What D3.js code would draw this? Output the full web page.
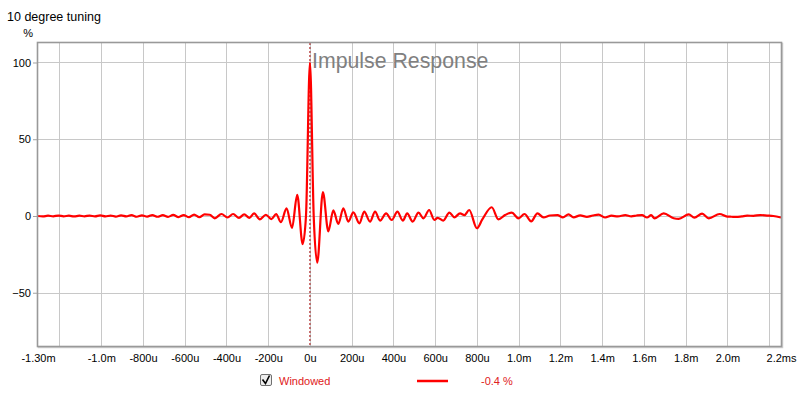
<!DOCTYPE html>
<html>
<head>
<meta charset="utf-8">
<script src="https://cdn.jsdelivr.net/npm/d3@7"></script>
<style>
  body { margin: 0; background: #fff; }
  text { font-family: "Liberation Sans", Arial, sans-serif; }
</style>
</head>
<body>
<svg id="chart" width="800" height="395"></svg>
<script>
// time in microseconds, value in percent (extrema)
var times = [-1303, -1280, -1255, -1230, -1205, -1180, -1155, -1130, -1105, -1080, -1055, -1030, -1005,
  -980, -955, -930, -905, -880, -855, -830, -805, -780, -755, -730, -705, -680, -655, -630, -605,
  -580, -555, -530, -505, -480, -456, -424, -395, -368, -340, -315, -290, -268, -240, -211, -185,
  -162, -139, -112, -86, -61, -35, -19, 0, 18, 35, 62, 88, 112, 136, 160, 184, 208, 237, 260, 288,
  312, 336, 365, 392, 419, 445, 466, 492, 520, 544, 571, 596, 612, 639, 668, 692, 719, 740, 763,
  800, 826, 871, 903, 935, 967, 999, 1028, 1060, 1090, 1119, 1150, 1186, 1212, 1239, 1263, 1295,
  1327, 1355, 1383, 1415, 1445, 1475, 1511, 1540, 1565, 1591, 1615, 1635, 1651, 1695, 1743, 1767,
  1815, 1842, 1879, 1911, 1963, 1999, 2020, 2043, 2070, 2095, 2125, 2158, 2190, 2220, 2257];
var percent = [0, -0.3, 0.2, -0.2, 0.3, -0.2, 0.2, -0.3, 0.2, -0.2, 0.3, -0.3, 0.4,
  -0.3, 0.3, -0.4, 0.4, -0.3, 0.5, -0.5, 0.4, -0.4, 0.6, -0.5, 0.5, -0.6, 0.7, -0.7, 0.6,
  -0.8, 0.9, -0.8, 1.0, 0.8, -1.5, 1.3, -1.0, 1.3, -1.2, 1.0, -1.2, 1.7, -2.2, 0.8, -2.0,
  1.2, -4.0, 5.0, -7.8, 13.7, -18.3, 0, 100, 0, -30.4, 15.6, -10.0, 3.6, -5.2, 5.0, -3.7, 2.4, -4.8, 2.8, -3.7,
  2.8, -3.0, 1.7, -2.6, 2.8, -3.0, 1.7, -3.7, 2.2, -1.5, 3.9, -2.6, -1.2, -3.0, 2.2, -0.9, 1.7, 0.5, 3.9,
  -8.0, -2.2, 5.7, -2.2, 0.6, 2.2, -1.5, 1.3, -3.5, 1.7, -0.9, 0.3, 0.6, -0.9, 1.0, -0.9, 0.4,
  -0.6, 0.3, 0.9, -1.0, 0.2, -0.3, 0.6, -0.2, 0.3, 0.6, -1.0, 0.5, -1.5, 1.7, -1.5, -1.9,
  1.1, -1.1, 1.5, -1.5, 1.3, -0.4, -0.5, -0.6, -0.2, 0.2, 0.1, 0.6, 0.3, 0.0, -1.0];

var xTickValues = [-1303, -1000, -800, -600, -400, -200, 0, 200, 400, 600, 800, 1000, 1200, 1400, 1600, 1800, 2000, 2257];
var xTickLabels = ["-1.30m", "-1.0m", "-800u", "-600u", "-400u", "-200u", "0u", "200u", "400u", "600u", "800u",
  "1.0m", "1.2m", "1.4m", "1.6m", "1.8m", "2.0m", "2.2ms"];
var xGrid = [-1200, -1000, -800, -600, -400, -200, 0, 200, 400, 600, 800, 1000, 1200, 1400, 1600, 1800, 2000, 2200];
var yTickValues = [-50, 0, 50, 100];

var svg = d3.select("#chart");
var plotL = 38, plotR = 781, plotT = 43, plotB = 346;

var x = d3.scaleLinear().domain([-1303, 2257]).range([plotL, plotR]);
var y = d3.scaleLinear().domain([-84.7, 112.7]).range([plotB, plotT]);

svg.append("text").attr("x", 7).attr("y", 21).style("font-size", "12.5px").text("10 degree tuning");
svg.append("text").attr("x", 33).attr("y", 37).attr("text-anchor", "end").style("font-size", "11px").text("%");

// plot background + frame shadow
svg.append("rect").attr("x", plotL + 1).attr("y", plotT + 1).attr("width", plotR - plotL).attr("height", plotB - plotT)
    .attr("fill", "none").attr("stroke", "#d0d0d0").attr("stroke-width", 2.5);
svg.append("rect").attr("x", plotL).attr("y", plotT).attr("width", plotR - plotL).attr("height", plotB - plotT)
    .attr("fill", "#fff");

var grid = svg.append("g");
grid.selectAll("line.v").data(xGrid).enter().append("line")
    .attr("x1", function(d) { return Math.round(x(d)) + 0.5; })
    .attr("x2", function(d) { return Math.round(x(d)) + 0.5; })
    .attr("y1", plotT).attr("y2", plotB)
    .attr("stroke", "#c8c8c8").attr("stroke-width", 1);
grid.selectAll("line.h").data(yTickValues).enter().append("line")
    .attr("y1", function(d) { return Math.round(y(d)) + 0.5; })
    .attr("y2", function(d) { return Math.round(y(d)) + 0.5; })
    .attr("x1", plotL).attr("x2", plotR)
    .attr("stroke", "#c8c8c8").attr("stroke-width", 1);

// dashed zero marker
svg.append("line")
    .attr("x1", x(0)).attr("x2", x(0)).attr("y1", plotT).attr("y2", plotB)
    .attr("stroke", "#a00000").attr("stroke-width", 1).attr("stroke-dasharray", "2,2");

svg.append("text").attr("x", 312).attr("y", 68).attr("fill", "#808080").style("font-size", "21.3px").text("Impulse Response");

var pts = times.map(function(t, i) { return [t, percent[i]]; });
var line = d3.line()
    .x(function(d) { return x(d[0]); })
    .y(function(d) { return y(d[1]); })
    .curve(d3.curveMonotoneX);

svg.append("path").datum(pts)
    .attr("d", line)
    .attr("fill", "none")
    .attr("stroke", "#ff0000")
    .attr("stroke-width", 2.2)
    .attr("stroke-linejoin", "round");

// frame
svg.append("rect").attr("x", plotL - 0.5).attr("y", plotT - 0.5).attr("width", plotR - plotL + 1).attr("height", plotB - plotT + 1)
    .attr("fill", "none").attr("stroke", "#999999").attr("stroke-width", 1.6);

// axes
var xAxis = d3.axisBottom(x).tickValues(xTickValues)
    .tickFormat(function(d, i) { return xTickLabels[i]; }).tickSize(0).tickPadding(0);
var gx = svg.append("g").attr("transform", "translate(0," + 362 + ")").call(xAxis);
gx.select(".domain").remove();
gx.selectAll("text").attr("dy", 0).style("font-size", "11px").style("font-family", "Liberation Sans, Arial, sans-serif");

var yAxis = d3.axisLeft(y).tickValues(yTickValues).tickSize(4).tickPadding(2);
var gy = svg.append("g").attr("transform", "translate(" + (plotL - 1) + ",0)").call(yAxis);
gy.select(".domain").remove();
gy.selectAll("line").attr("stroke", "#a0a0a0");
gy.selectAll("text").style("font-size", "11px").style("font-family", "Liberation Sans, Arial, sans-serif");

// legend
var lg = svg.append("g");
lg.append("rect").attr("x", 260.5).attr("y", 374.5).attr("width", 11).attr("height", 11).attr("rx", 1.5)
    .attr("fill", "#eeeeee").attr("stroke", "#707070");
lg.append("path").attr("d", "M262.5,379.5 L265.5,383.5 L269.5,375.5")
    .attr("fill", "none").attr("stroke", "#000").attr("stroke-width", 1.6);
lg.append("text").attr("x", 279).attr("y", 385).attr("fill", "#e02020").style("font-size", "11px").text("Windowed");
lg.append("line").attr("x1", 417).attr("x2", 448).attr("y1", 381).attr("y2", 381)
    .attr("stroke", "#ff0000").attr("stroke-width", 2.5);
lg.append("text").attr("x", 481).attr("y", 385).attr("fill", "#e02020").style("font-size", "11px").text("-0.4 %");
</script>
</body>
</html>
